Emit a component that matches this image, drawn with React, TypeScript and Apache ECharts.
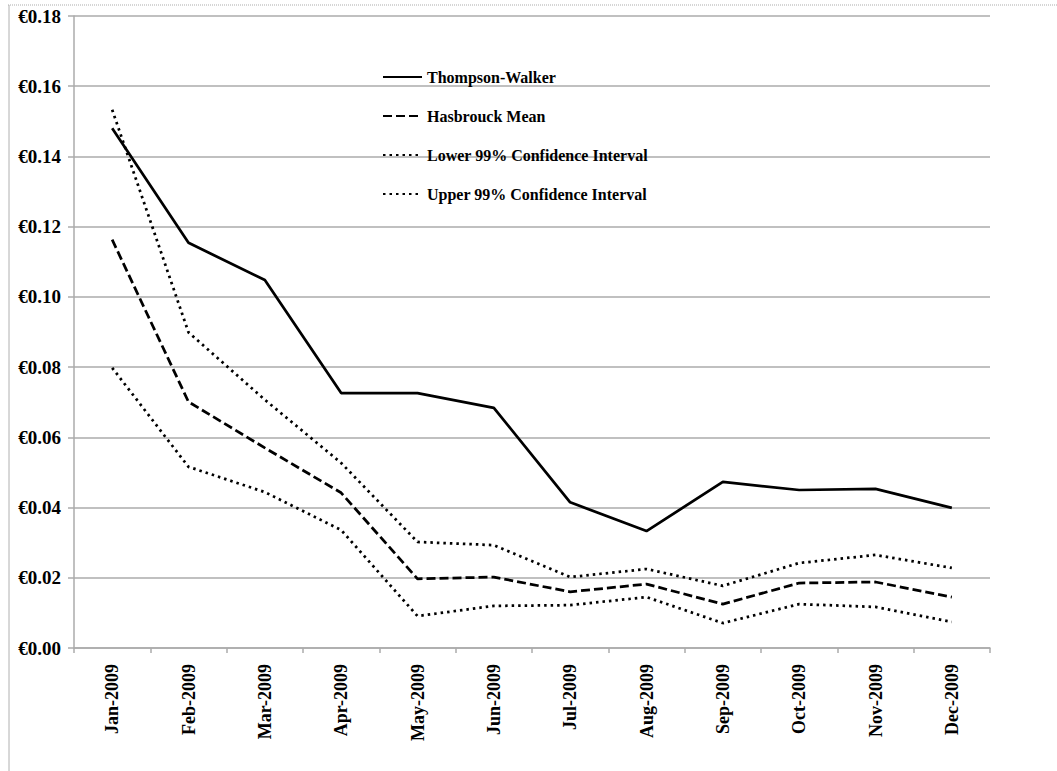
import React, { useEffect, useRef } from "react";
import * as echarts from "echarts";

const months = ["Jan-2009", "Feb-2009", "Mar-2009", "Apr-2009", "May-2009", "Jun-2009", "Jul-2009", "Aug-2009", "Sep-2009", "Oct-2009", "Nov-2009", "Dec-2009"];
const thompsonWalker = [0.148, 0.1154, 0.1048, 0.0726, 0.0726, 0.0684, 0.0415, 0.0333, 0.0473, 0.045, 0.0453, 0.0399];
const hasbrouckMean = [0.1163, 0.0701, 0.057, 0.0442, 0.0197, 0.0202, 0.016, 0.0182, 0.0125, 0.0185, 0.0188, 0.0145];
const lowerCI = [0.0798, 0.0516, 0.0444, 0.0336, 0.0091, 0.012, 0.0122, 0.0145, 0.0071, 0.0125, 0.0117, 0.0074];
const upperCI = [0.1533, 0.0899, 0.0707, 0.0527, 0.0302, 0.0293, 0.0202, 0.0225, 0.0177, 0.0242, 0.0265, 0.0228];
const seriesNames = ["Thompson-Walker", "Hasbrouck Mean", "Lower 99% Confidence Interval", "Upper 99% Confidence Interval"];

const SERIF = "'Liberation Serif', 'Times New Roman', serif";

export default function App() {
  const ref = useRef<HTMLDivElement>(null);
  useEffect(() => {
    if (!ref.current) return;
    const chart = echarts.init(ref.current, null, { renderer: "svg" });
    const mk = (name: string, data: number[], type: any, width = 2.75) => ({
      name,
      type: "line",
      data,
      symbol: "none",
      showSymbol: false,
      lineStyle: { color: "#000", width, type, cap: "butt" },
      itemStyle: { color: "#000" },
    });
    chart.setOption({
      animation: false,
      backgroundColor: "#fff",
      textStyle: { fontFamily: SERIF },
      grid: { left: 74, right: 67, top: 16, bottom: 123, containLabel: false },
      legend: {
        orient: "vertical",
        left: 377,
        top: 64,
        itemWidth: 39,
        itemHeight: 16,
        itemGap: 23,
        data: seriesNames,
        itemStyle: { opacity: 0, color: "transparent", borderWidth: 0 },
        textStyle: { fontFamily: SERIF, fontWeight: "bold", fontSize: 16, color: "#000" },
      },
      xAxis: {
        type: "category",
        data: months,
        boundaryGap: true,
        axisLine: { lineStyle: { color: "#ababab", width: 1.5 } },
        axisTick: { show: true, length: 5, lineStyle: { color: "#ababab", width: 1.5 } },
        axisLabel: {
          rotate: 90,
          margin: 16,
          fontFamily: SERIF,
          fontWeight: "bold",
          fontSize: 18,
          color: "#000",
          interval: 0,
        },
        splitLine: { show: false },
      },
      yAxis: {
        type: "value",
        min: 0,
        max: 0.18,
        interval: 0.02,
        axisLine: { show: true, lineStyle: { color: "#ababab", width: 1.5 } },
        axisTick: { show: true, length: 6, lineStyle: { color: "#ababab", width: 1.5 } },
        axisLabel: {
          margin: 13,
          fontFamily: SERIF,
          fontWeight: "bold",
          fontSize: 19,
          color: "#000",
          formatter: (v: number) => "€" + v.toFixed(2),
        },
        splitLine: { show: true, lineStyle: { color: "#ababab", width: 1.5 } },
      },
      graphic: [
        { type: "line", shape: { x1: 8, y1: 5, x2: 1057, y2: 5 }, style: { stroke: "#c8c8c8", lineWidth: 1.5, lineDash: [1, 1] } },
        { type: "line", shape: { x1: 9, y1: 5, x2: 9, y2: 771 }, style: { stroke: "#b0b0b0", lineWidth: 1 } },
      ],
      series: [
        mk(seriesNames[0], thompsonWalker, "solid"),
        mk(seriesNames[1], hasbrouckMean, [9, 4]),
        mk(seriesNames[2], lowerCI, [2.5, 4]),
        mk(seriesNames[3], upperCI, [2.5, 4]),
      ],
    });
    return () => chart.dispose();
  }, []);
  return (
    <div
      ref={ref}
      style={{ position: "absolute", left: 0, top: 0, width: 1057, height: 771, background: "#fff" }}
    />
  );
}
